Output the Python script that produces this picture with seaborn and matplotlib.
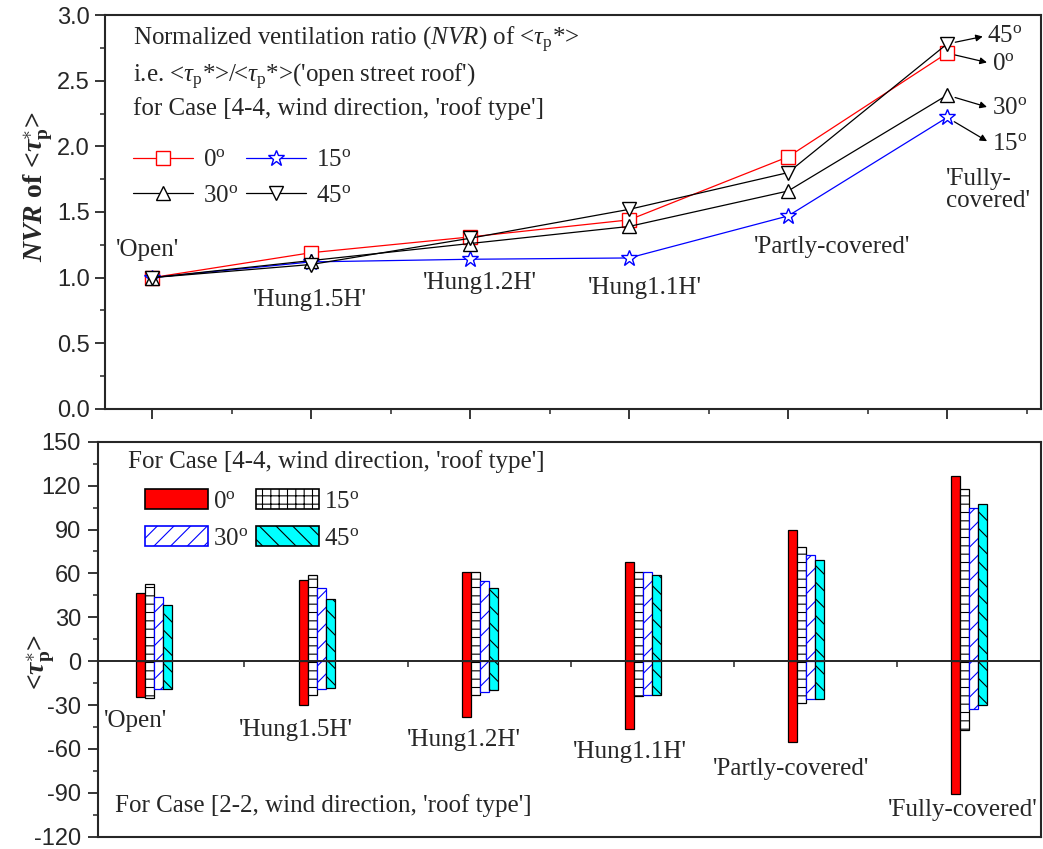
import numpy as np
import pandas as pd
import matplotlib
matplotlib.use("Agg")
import matplotlib.pyplot as plt
import seaborn as sns
from matplotlib.patches import Patch
from matplotlib.ticker import MultipleLocator, FixedLocator, FormatStrFormatter

# ---------------- data ----------------
roof_types = ["'Open'", "'Hung1.5H'", "'Hung1.2H'", "'Hung1.1H'", "'Partly-covered'", "'Fully-covered'"]
angles = ["0", "15", "30", "45"]

nvr_0 = [1.0, 1.19, 1.31, 1.44, 1.92, 2.71]
nvr_15 = [1.0, 1.12, 1.14, 1.15, 1.47, 2.22]
nvr_30 = [1.0, 1.13, 1.26, 1.39, 1.66, 2.39]
nvr_45 = [1.0, 1.10, 1.30, 1.52, 1.80, 2.78]

tau44_0 = [46.7, 55.8, 61.1, 67.7, 89.5, 126.7]
tau44_15 = [52.9, 59.0, 60.9, 61.1, 78.2, 117.8]
tau44_30 = [44.0, 49.9, 54.7, 61.0, 72.5, 104.8]
tau44_45 = [38.3, 42.4, 49.9, 58.8, 69.3, 107.1]

tau22_0 = [-24.3, -29.8, -38.0, -46.7, -55.1, -90.6]
tau22_15 = [-25.3, -23.0, -22.8, -23.9, -28.9, -47.4]
tau22_30 = [-18.9, -19.3, -21.2, -23.2, -26.2, -33.0]
tau22_45 = [-19.3, -18.4, -20.0, -22.8, -26.2, -30.3]

# ---------------- style ----------------
sns.set_style("ticks")
plt.rcParams["font.family"] = ["Liberation Serif", "DejaVu Sans"]
plt.rcParams["mathtext.fontset"] = "custom"
plt.rcParams["mathtext.rm"] = "Liberation Serif"
plt.rcParams["mathtext.it"] = "Liberation Serif:italic"
plt.rcParams["mathtext.bf"] = "Liberation Serif:bold"
plt.rcParams["mathtext.bfit"] = "Liberation Serif:italic:bold"
plt.rcParams["axes.unicode_minus"] = False
plt.rcParams["hatch.linewidth"] = 0.8

TXT = 18
TICK = 17
deg = lambda a: a + r"$^{\rm o}$"

fig = plt.figure(figsize=(10.43, 8.49), dpi=100)
ax1 = fig.add_axes([0.1007, 0.5183, 0.8973, 0.4640])
ax2 = fig.add_axes([0.0937, 0.0145, 0.9043, 0.4652])

# ---------------- top panel: NVR lines ----------------
nvr = {"0": nvr_0, "15": nvr_15, "30": nvr_30, "45": nvr_45}
df_nvr = pd.DataFrame([
    {"pos": i, "roof": r, "angle": a, "nvr": nvr[a][i]}
    for a in angles for i, r in enumerate(roof_types)
])
line_colors = {"0": "#ff0000", "15": "#0000ff", "30": "black", "45": "black"}
markers = {"0": "s", "15": "*", "30": "^", "45": "v"}
sns.lineplot(data=df_nvr, x="pos", y="nvr", hue="angle", style="angle",
             hue_order=angles, style_order=angles, palette=line_colors,
             markers=markers, dashes=False, errorbar=None, legend=False,
             ax=ax1, lw=0.9, ms=10, sort=False)
lines = ax1.lines[:4]
for ln in lines:
    ln.set_markerfacecolor("white")
    ln.set_markeredgecolor(ln.get_color())
    ln.set_markeredgewidth(1.0)
lines[1].set_markersize(12)

ax1.set_xlim(-0.296, 5.59)
ax1.set_ylim(0, 3.0)
ax1.yaxis.set_major_locator(MultipleLocator(0.5))
ax1.yaxis.set_minor_locator(MultipleLocator(0.25))
ax1.yaxis.set_major_formatter(FormatStrFormatter("%.1f"))
ax1.xaxis.set_major_locator(FixedLocator(range(len(roof_types))))
ax1.xaxis.set_minor_locator(FixedLocator([i + 0.5 for i in range(len(roof_types))]))
ax1.set_xticklabels([])
ax1.tick_params(axis="both", which="major", length=7, width=1.3, direction="out",
                labelsize=TICK, labelfontfamily="Liberation Sans", pad=4)
ax1.tick_params(axis="both", which="minor", length=3.5, width=1.1, direction="out")
ax1.tick_params(top=False, right=False, which="both")
for sp in ax1.spines.values():
    sp.set_visible(True)
    sp.set_linewidth(1.5)
ax1.set_xlabel("")
ax1.set_ylabel(r"$\mathbfit{NVR}$ of <$\mathbfit{\tau}_\mathbf{p}^{\ast}$>",
               fontsize=20, fontweight="bold")
ax1.yaxis.set_label_coords(-0.053, 0.565)

ax1.text(0.0299, 0.924, r"Normalized ventilation ratio ($\mathit{NVR}$) of <$\mathit{\tau}_{\rm p}$*>",
         transform=ax1.transAxes, fontsize=TXT, va="baseline", ha="left")
ax1.text(0.0299, 0.830, r"i.e. <$\mathit{\tau}_{\rm p}$*>/<$\mathit{\tau}_{\rm p}$*>('open street roof')",
         transform=ax1.transAxes, fontsize=TXT, va="baseline", ha="left")
ax1.text(0.0299, 0.746, "for Case [4-4, wind direction, 'roof type']",
         transform=ax1.transAxes, fontsize=TXT, va="baseline", ha="left")

leg1 = ax1.legend(handles=[lines[0], lines[2], lines[1], lines[3]],
                  labels=[deg("0"), deg("30"), deg("15"), deg("45")],
                  ncol=2, loc="upper left", bbox_to_anchor=(0.0299, 0.660),
                  frameon=False, fontsize=TXT, handlelength=2.4, handletextpad=0.4,
                  columnspacing=0.3, labelspacing=0.52, borderpad=0, borderaxespad=0)

top_lbl_pos = [(-0.03, 1.21), (0.99, 0.83), (2.06, 0.96), (3.10, 0.92), (4.28, 1.23)]
for (x, y), name in zip(top_lbl_pos, roof_types[:5]):
    ax1.text(x, y, name, ha="center", va="center", fontsize=TXT)
ax1.text(4.99, 1.67, "'Fully-\ncovered'", ha="left", va="center", fontsize=TXT, linespacing=1.0)

last = {a: nvr[a][-1] for a in angles}
ann_offsets = {"45": (29, 6), "0": (32, -7.5), "30": (32, -9.5), "15": (32, -19)}
for a, (dx, dy) in ann_offsets.items():
    ax1.annotate(deg(a), xy=(len(roof_types) - 1, last[a]), xytext=(dx, dy),
                 textcoords="offset points", ha="left", va="center", fontsize=TXT,
                 arrowprops=dict(arrowstyle="<|-", color="black", lw=0.9,
                                 shrinkA=1, shrinkB=6, mutation_scale=10,
                                 relpos=(0.0, 0.5)))

# ---------------- bottom panel: bars ----------------
t44 = {"0": tau44_0, "15": tau44_15, "30": tau44_30, "45": tau44_45}
t22 = {"0": tau22_0, "15": tau22_15, "30": tau22_30, "45": tau22_45}
df_pos = pd.DataFrame([{"roof": r, "angle": a, "tau": t44[a][i]}
                       for a in angles for i, r in enumerate(roof_types)])
df_neg = pd.DataFrame([{"roof": r, "angle": a, "tau": t22[a][i]}
                       for a in angles for i, r in enumerate(roof_types)])
bar_fill = {"0": "#ff0000", "15": "white", "30": "white", "45": "#00ffff"}
bar_edge = {"0": "black", "15": "black", "30": "#0000ff", "45": "black"}
bar_hatch = {"0": None, "15": "--", "30": "//", "45": "\\\\"}
leg_hatch = {"0": None, "15": "++", "30": "//", "45": "\\\\"}

for d in (df_pos, df_neg):
    sns.barplot(data=d, x="roof", y="tau", hue="angle", hue_order=angles,
                order=roof_types, palette=bar_fill, width=0.224, errorbar=None,
                legend=False, ax=ax2, saturation=1)
for k, cont in enumerate(ax2.containers):
    a = angles[k % 4]
    for p in cont.patches:
        p.set_edgecolor(bar_edge[a])
        p.set_linewidth(0.9)
        if bar_hatch[a]:
            p.set_hatch(bar_hatch[a])

ax2.set_xlim(-0.345, 5.44)
ax2.set_ylim(-120, 150)
ax2.yaxis.set_major_locator(MultipleLocator(30))
ax2.yaxis.set_minor_locator(MultipleLocator(15))
ax2.set_xticks([])
ax2.tick_params(axis="y", which="major", length=7, width=1.3, direction="out",
                labelsize=TICK, labelfontfamily="Liberation Sans", pad=5)
ax2.tick_params(axis="y", which="minor", length=3.5, width=1.1, direction="out")
ax2.tick_params(right=False, which="both")
for sp in ax2.spines.values():
    sp.set_visible(True)
    sp.set_linewidth(1.5)
ax2.set_xlabel("")
ax2.set_ylabel(r"<$\mathbfit{\tau}_\mathbf{p}^{\ast}$>", fontsize=20, fontweight="bold")
ax2.yaxis.set_label_coords(-0.043, 0.442)

# zero line with its own ticks
ax3 = ax2.twiny()
ax3.set_xlim(ax2.get_xlim())
for name, sp in ax3.spines.items():
    sp.set_visible(name == "bottom")
ax3.spines["bottom"].set_position(("data", 0))
ax3.spines["bottom"].set_linewidth(1.4)
ax3.xaxis.set_ticks_position("bottom")
ax3.set_xticks([i + 0.555 for i in range(len(roof_types) - 1)])
ax3.tick_params(axis="x", length=4, width=1.1, direction="out",
                labelbottom=False, labeltop=False, top=False)

ax2.text(0.032, 0.933, "For Case [4-4, wind direction, 'roof type']",
         transform=ax2.transAxes, fontsize=TXT, va="baseline", ha="left")
ax2.text(0.018, 0.063, "For Case [2-2, wind direction, 'roof type']",
         transform=ax2.transAxes, fontsize=TXT, va="baseline", ha="left")

bot_lbl_pos = [(-0.115, -41), (0.87, -47), (1.90, -54), (2.92, -62), (3.91, -74), (4.96, -102)]
for (x, y), name in zip(bot_lbl_pos, roof_types):
    ax2.text(x, y, name, ha="center", va="center", fontsize=TXT)

leg_handles = [Patch(facecolor=bar_fill[a], edgecolor=bar_edge[a], hatch=leg_hatch[a], lw=1.2)
               for a in angles]
ax2.legend(handles=[leg_handles[0], leg_handles[2], leg_handles[1], leg_handles[3]],
           labels=[deg("0"), deg("30"), deg("15"), deg("45")],
           ncol=2, loc="upper left", bbox_to_anchor=(0.050, 0.880),
           frameon=False, fontsize=TXT, handlelength=2.52, handleheight=0.84,
           handletextpad=0.2, columnspacing=0.3, labelspacing=0.55,
           borderpad=0, borderaxespad=0)

fig.savefig("out.png", dpi=100)
